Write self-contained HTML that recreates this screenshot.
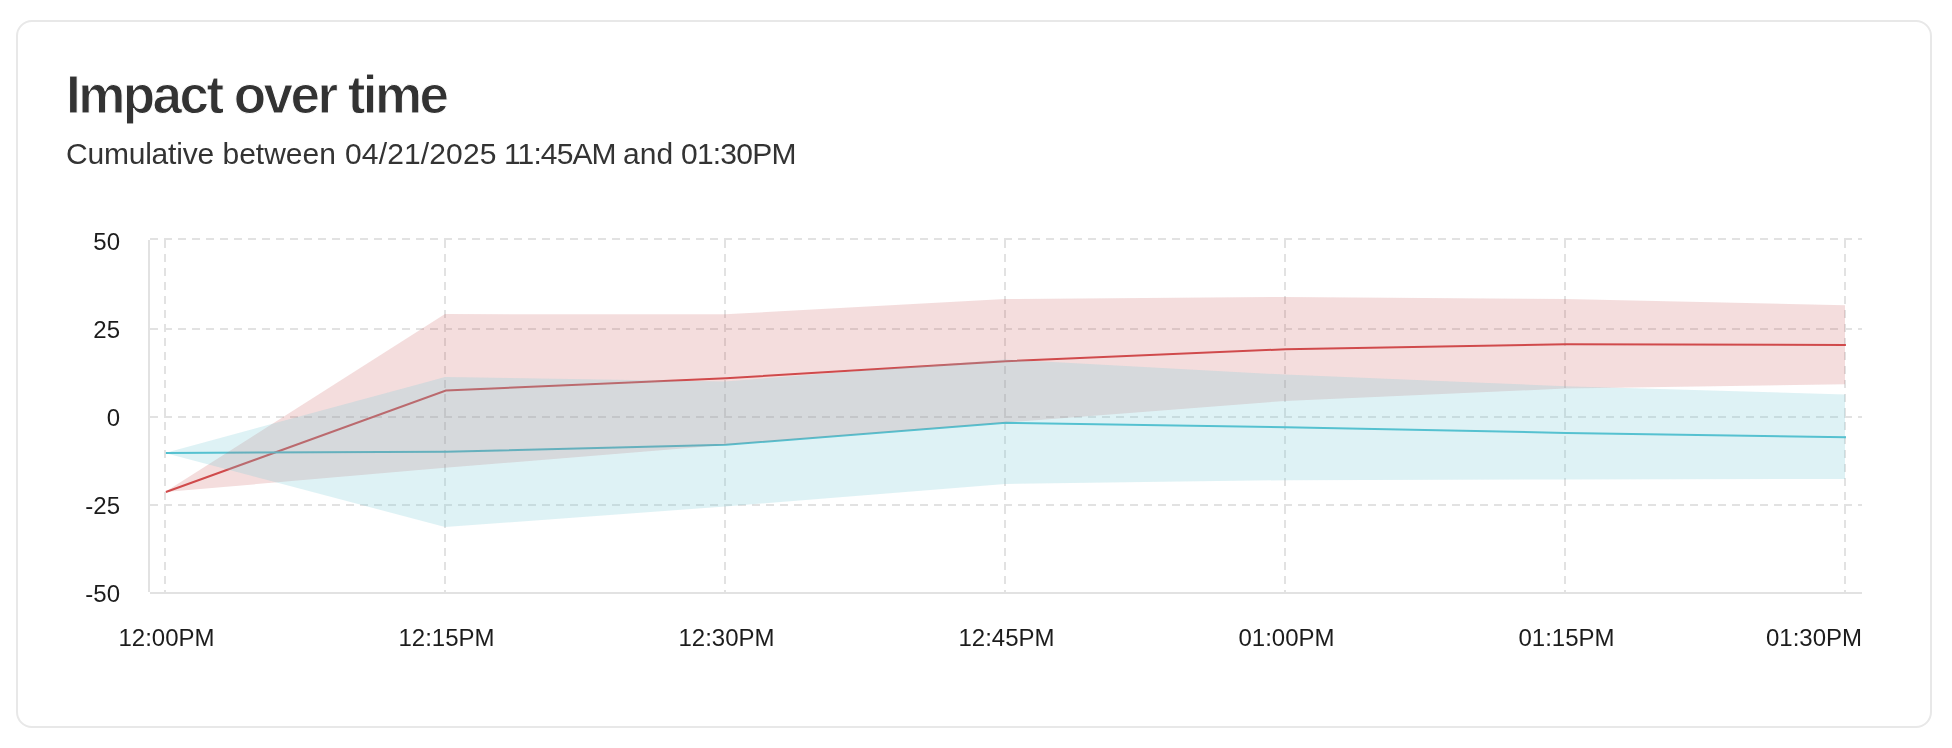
<!DOCTYPE html>
<html><head><meta charset="utf-8">
<style>
html,body{margin:0;padding:0;background:#fff;}
body{width:1952px;height:748px;position:relative;overflow:hidden;font-family:"Liberation Sans",sans-serif;}
.card{position:absolute;left:16px;top:20px;width:1916px;height:708px;box-sizing:border-box;border:2px solid #e8e8e8;border-radius:16px;}
h1{will-change:transform;position:absolute;margin:0;left:66px;top:65px;font-size:53px;line-height:60px;font-weight:bold;color:#333;letter-spacing:-2.55px;-webkit-text-stroke:1px #fff;white-space:nowrap;}
.sub span{position:absolute;top:0;white-space:nowrap;}
.sub{will-change:transform;position:absolute;width:900px;height:40px;margin:0;left:66px;top:136px;font-size:30px;line-height:35px;color:#333;letter-spacing:-0.28px;white-space:nowrap;}
svg{position:absolute;left:0;top:0;will-change:transform;}
svg text{font-family:"Liberation Sans",sans-serif;font-size:24px;fill:#1c1c1c;}
</style></head><body>
<div class="card"></div>
<h1>Impact over time</h1>
<div class="sub"><span style="left:0.00px;letter-spacing:-0.213px">Cumulative</span><span style="left:156.50px;letter-spacing:-0.013px">between</span><span style="left:279.00px;letter-spacing:0.142px">04/21/2025</span><span style="left:438.00px;letter-spacing:-0.880px">11:45AM</span><span style="left:557.00px;letter-spacing:0.120px">and</span><span style="left:615.00px;letter-spacing:-0.780px">01:30PM</span></div>
<svg width="1952" height="748" viewBox="0 0 1952 748">
<line x1="150" y1="239" x2="1862" y2="239" stroke="#e2e2e2" stroke-width="2" stroke-dasharray="8 6"/>
<line x1="150" y1="329" x2="1862" y2="329" stroke="#e2e2e2" stroke-width="2" stroke-dasharray="8 6"/>
<line x1="150" y1="417" x2="1862" y2="417" stroke="#e2e2e2" stroke-width="2" stroke-dasharray="8 6"/>
<line x1="150" y1="505" x2="1862" y2="505" stroke="#e2e2e2" stroke-width="2" stroke-dasharray="8 6"/>
<line x1="165" y1="240" x2="165" y2="592" stroke="#e2e2e2" stroke-width="2" stroke-dasharray="8 6"/>
<line x1="445" y1="240" x2="445" y2="592" stroke="#e2e2e2" stroke-width="2" stroke-dasharray="8 6"/>
<line x1="725" y1="240" x2="725" y2="592" stroke="#e2e2e2" stroke-width="2" stroke-dasharray="8 6"/>
<line x1="1005" y1="240" x2="1005" y2="592" stroke="#e2e2e2" stroke-width="2" stroke-dasharray="8 6"/>
<line x1="1285" y1="240" x2="1285" y2="592" stroke="#e2e2e2" stroke-width="2" stroke-dasharray="8 6"/>
<line x1="1565" y1="240" x2="1565" y2="592" stroke="#e2e2e2" stroke-width="2" stroke-dasharray="8 6"/>
<line x1="1845" y1="240" x2="1845" y2="592" stroke="#e2e2e2" stroke-width="2" stroke-dasharray="8 6"/>
<rect x="148" y="240" width="2" height="352" fill="#e2e2e2"/>
<rect x="150" y="592" width="1712" height="2" fill="#e2e2e2"/>
<polyline points="165.9,492 445.9,390.6 725.9,378.3 1005.9,361.2 1285.9,349.2 1565.9,344.2 1845.9,344.9" fill="none" stroke="#d34c4e" stroke-width="2"/>
<polyline points="165.9,453 445.9,451.8 725.9,444.8 1005.9,422.8 1285.9,427.3 1565.9,432.9 1845.9,437.3" fill="none" stroke="#48bece" stroke-width="2"/>
<polygon points="165,492 445,314.1 725,314.3 1005,299.0 1285,297.0 1565,299.0 1845,305.2 1845,384.2 1565,388.6 1285,400.9 1005,422.5 725,445.0 445,467.8 165,492" fill="rgba(194,66,66,0.18)"/>
<polygon points="165,453 445,377.1 725,381.5 1005,359.5 1285,374.6 1565,386.2 1845,394.5 1845,479.0 1565,479.5 1285,480.2 1005,483.9 725,506.5 445,527.0 165,453" fill="rgba(123,203,215,0.25)"/>
<text x="120" y="241.5" dy="0.355em" text-anchor="end">50</text>
<text x="120" y="329" dy="0.355em" text-anchor="end">25</text>
<text x="120" y="417" dy="0.355em" text-anchor="end">0</text>
<text x="120" y="505" dy="0.355em" text-anchor="end">-25</text>
<text x="120" y="593" dy="0.355em" text-anchor="end">-50</text>
<text x="166.5" y="646" text-anchor="middle">12:00PM</text>
<text x="446.5" y="646" text-anchor="middle">12:15PM</text>
<text x="726.5" y="646" text-anchor="middle">12:30PM</text>
<text x="1006.5" y="646" text-anchor="middle">12:45PM</text>
<text x="1286.5" y="646" text-anchor="middle">01:00PM</text>
<text x="1566.5" y="646" text-anchor="middle">01:15PM</text>
<text x="1862" y="646" text-anchor="end">01:30PM</text>
</svg>
</body></html>
